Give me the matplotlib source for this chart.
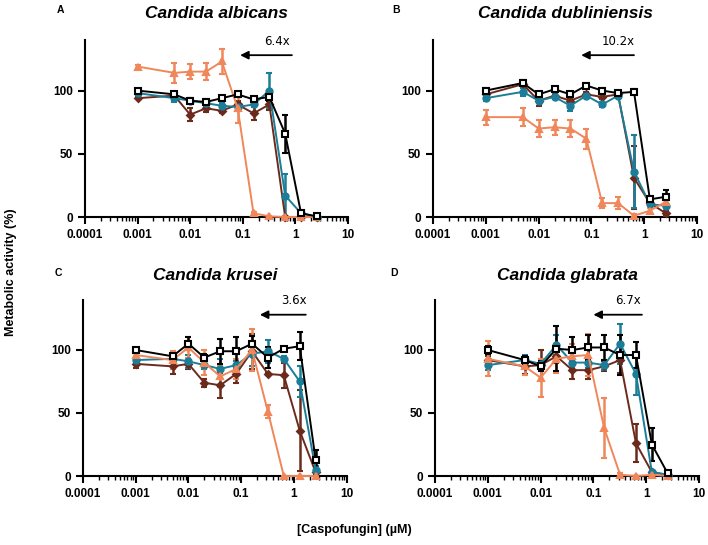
import matplotlib
matplotlib.use("Agg")
import matplotlib.pyplot as plt
from matplotlib.ticker import LogLocator, FixedLocator, NullFormatter

plt.rcParams['font.family'] = ['Liberation Sans', 'DejaVu Sans']

conc = [0.001, 0.005, 0.01, 0.02, 0.04, 0.08, 0.16, 0.32, 0.64, 1.28, 2.56]
xtick_vals = [0.0001, 0.001, 0.01, 0.1, 1, 10]
xtick_labels = ["0.0001", "0.001", "0.01", "0.1", "1", "10"]
ytick_vals = [0, 50, 100]

titles = ["Candida albicans", "Candida dubliniensis", "Candida krusei", "Candida glabrata"]
letters = ["A", "B", "C", "D"]
fold_labels = ["6.4x", "10.2x", "3.6x", "6.7x"]
arrow_from = [0.86, 0.64, 1.67, 0.83]
arrow_to = [0.089, 0.064, 0.225, 0.10]

# Panel A
A_black = [100, 97, 92, 91, 94, 97, 93, 95, 66, 3, 0.5]
A_black_err = [1, 2, 2, 2, 2, 2, 2, 3, 15, 1, 0.5]
A_teal = [98, 94, 92, 90, 88, 87, 89, 100, 17, 3, 0]
A_teal_err = [1, 3, 2, 2, 2, 3, 2, 14, 17, 1, 0]
A_red = [94, 96, 81, 86, 84, 89, 82, 89, 0, 0, 0]
A_red_err = [1, 2, 5, 3, 2, 3, 5, 4, 0, 0, 0]
A_orange = [119, 114, 115, 115, 123, 86, 3, 0.5, 0, 0, 0]
A_orange_err = [1, 8, 6, 7, 10, 12, 1, 0.5, 0, 0, 0]

# Panel B
B_black = [100, 106, 97, 101, 97, 104, 100, 98, 99, 14, 16]
B_black_err = [2, 2, 2, 2, 2, 2, 2, 2, 2, 2, 5]
B_teal = [94, 99, 92, 95, 88, 96, 89, 96, 36, 10, 9]
B_teal_err = [2, 3, 2, 2, 4, 2, 2, 2, 29, 2, 2]
B_red = [97, 105, 92, 96, 92, 97, 95, 97, 31, 11, 3]
B_red_err = [2, 2, 4, 3, 2, 2, 2, 2, 25, 2, 2]
B_orange = [79, 79, 70, 71, 70, 62, 11, 11, 1, 5, 12]
B_orange_err = [6, 7, 7, 6, 7, 8, 4, 5, 1, 2, 6]

# Panel C
C_black = [100, 95, 105, 94, 99, 99, 105, 94, 101, 103, 13]
C_black_err = [1, 2, 5, 3, 10, 11, 6, 8, 1, 11, 8]
C_teal = [92, 93, 91, 88, 85, 88, 97, 99, 93, 75, 5]
C_teal_err = [2, 2, 5, 3, 8, 3, 10, 9, 2, 12, 3]
C_red = [89, 87, 89, 74, 72, 81, 99, 81, 80, 36, 3]
C_red_err = [3, 6, 4, 3, 10, 7, 14, 1, 10, 32, 2]
C_orange = [96, 92, 102, 90, 79, 85, 100, 51, 0, 0, 0]
C_orange_err = [3, 7, 8, 10, 8, 8, 17, 5, 0, 0, 0]

# Panel D
D_black = [100, 92, 87, 101, 100, 102, 102, 96, 96, 25, 2]
D_black_err = [3, 3, 4, 18, 10, 10, 10, 16, 10, 13, 1]
D_teal = [88, 92, 89, 104, 90, 90, 88, 105, 81, 3, 1]
D_teal_err = [4, 4, 4, 8, 4, 4, 4, 16, 17, 1, 1]
D_red = [92, 87, 88, 95, 84, 84, 87, 92, 26, 3, 1]
D_red_err = [3, 6, 12, 5, 7, 7, 4, 10, 15, 1, 1]
D_orange = [93, 87, 78, 93, 95, 96, 38, 1, 0, 1, 0]
D_orange_err = [14, 7, 15, 11, 10, 17, 24, 1, 0, 1, 0]

panels = [
    (A_black, A_black_err, A_teal, A_teal_err, A_red, A_red_err, A_orange, A_orange_err),
    (B_black, B_black_err, B_teal, B_teal_err, B_red, B_red_err, B_orange, B_orange_err),
    (C_black, C_black_err, C_teal, C_teal_err, C_red, C_red_err, C_orange, C_orange_err),
    (D_black, D_black_err, D_teal, D_teal_err, D_red, D_red_err, D_orange, D_orange_err),
]

BLACK = "#000000"
TEAL = "#1b7d97"
RED = "#6b2a1c"
ORANGE = "#f0875a"

fig = plt.figure(figsize=(7.08, 5.45), dpi=100)

rects = [
    [0.120, 0.6018, 0.3715, 0.3248],
    [0.6116, 0.6018, 0.3729, 0.3248],
    [0.117, 0.1266, 0.3729, 0.3237],
    [0.6144, 0.1266, 0.3729, 0.3237],
]
title_y = [0.975, 0.975, 0.494, 0.494]
letter_xy = [(0.085, 0.982), (0.560, 0.982), (0.082, 0.500), (0.557, 0.500)]

for i, (rect, data) in enumerate(zip(rects, panels)):
    ax = fig.add_axes(rect)
    bk, bke, tl, tle, rd, rde, org, orge = data
    series = [
        (rd, rde, RED, "D", RED, 3.5),
        (tl, tle, TEAL, "o", TEAL, 4.5),
        (org, orge, ORANGE, "^", ORANGE, 4.5),
        (bk, bke, BLACK, "s", "white", 5.0),
    ]
    for vals, errs, col, mk, fc, ms in series:
        ax.errorbar(conc, vals, yerr=errs, color=col, marker=mk, markersize=ms,
                    markerfacecolor=fc, markeredgecolor=col, markeredgewidth=1.5,
                    linewidth=1.4, elinewidth=1.8, capsize=2.5, capthick=1.8,
                    clip_on=False, zorder=3)
    ax.set_xscale("log")
    ax.set_xlim(0.0001, 10)
    ax.set_ylim(0, 140)
    ax.spines["top"].set_visible(False)
    ax.spines["right"].set_visible(False)
    ax.spines["left"].set_linewidth(1.5)
    ax.spines["bottom"].set_linewidth(1.5)
    ax.spines["left"].set_bounds(0, 140)
    ax.xaxis.set_major_locator(FixedLocator(xtick_vals))
    ax.set_xticklabels(xtick_labels)
    ax.xaxis.set_minor_locator(LogLocator(base=10, subs=range(2, 10), numticks=20))
    ax.xaxis.set_minor_formatter(NullFormatter())
    ax.set_yticks(ytick_vals)
    ax.tick_params(axis="both", which="major", direction="out", length=5, width=1.5,
                   labelsize=8.5)
    ax.tick_params(axis="x", which="minor", direction="out", length=3, width=1.0)
    for lab in ax.get_xticklabels() + ax.get_yticklabels():
        lab.set_fontweight("bold")
    ax.patch.set_alpha(0)

    cx = rect[0] + rect[2] / 2
    fig.text(cx, title_y[i], titles[i], fontsize=12.5, fontweight="bold",
             fontstyle="italic", ha="center", va="center")
    fig.text(letter_xy[i][0], letter_xy[i][1], letters[i], fontsize=7.5,
             fontweight="bold", ha="center", va="center")

    ax.annotate("", xy=(arrow_to[i], 128), xytext=(arrow_from[i], 128),
                arrowprops=dict(arrowstyle="-|>", color="black", lw=1.3,
                                mutation_scale=12, shrinkA=0, shrinkB=0))
    xm = (arrow_to[i] * arrow_from[i]) ** 0.5
    ax.text(xm * 1.6, 134, fold_labels[i], fontsize=8.5, ha="center", va="bottom",
            family=["DejaVu Sans"])

fig.text(0.016, 0.5, "Metabolic activity (%)", rotation=90, fontsize=9,
         fontweight="bold", ha="center", va="center")
fig.text(0.5, 0.027, "[Caspofungin] (\u00b5M)", fontsize=9, fontweight="bold",
         ha="center", va="center")

fig.savefig("out.png", dpi=100)
